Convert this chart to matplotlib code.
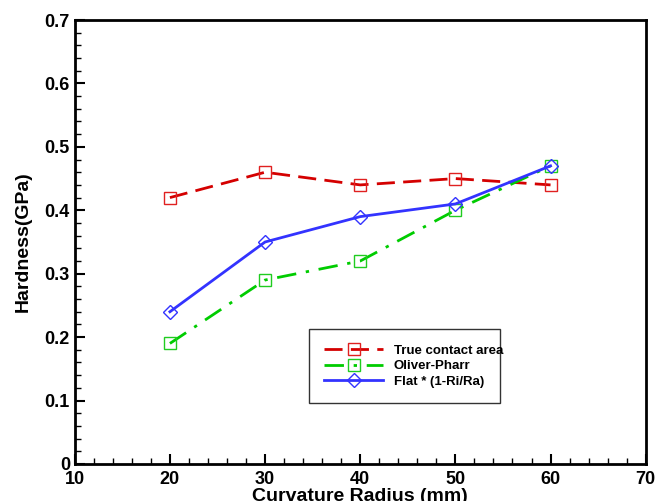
import matplotlib.pyplot as plt
from matplotlib.ticker import MultipleLocator

radius = [20, 30, 40, 50, 60]
true_area = [0.42, 0.46, 0.44, 0.45, 0.44]
oliver_pharr = [0.19, 0.29, 0.32, 0.40, 0.47]
flat_corr = [0.24, 0.35, 0.39, 0.41, 0.47]

plt.rcParams['font.family'] = ['Liberation Sans', 'DejaVu Sans']
plt.rcParams['font.weight'] = 'bold'

fig = plt.figure(figsize=(6.57, 5.01), dpi=100)
ax = fig.add_axes([0.1138, 0.074, 0.869, 0.886])

ax.plot(radius, true_area, color='#d40000', lw=2, dashes=(6.5, 3),
        marker='s', ms=8, mfc='none', mec='#e02020', mew=1,
        label='True contact area')
ax.plot(radius, oliver_pharr, color='#00cc00', lw=2, dashes=(7, 3.5, 1.2, 3.5),
        marker='s', ms=8, mfc='none', mec='#20cc20', mew=1,
        label='Oliver-Pharr')
ax.plot(radius, flat_corr, color='#3333ff', lw=2, ls='-',
        marker='D', ms=7.5, mfc='none', mec='#3333ff', mew=1,
        label='Flat * (1-Ri/Ra)')

ax.set_xlim(10, 70)
ax.set_ylim(0, 0.7)
ax.xaxis.set_major_locator(MultipleLocator(10))
ax.xaxis.set_minor_locator(MultipleLocator(2))
ax.yaxis.set_major_locator(MultipleLocator(0.1))
ax.yaxis.set_minor_locator(MultipleLocator(0.02))
ax.tick_params(which='both', direction='in', top=False, right=False,
               labelsize=13, width=1.5)
ax.tick_params(which='major', length=7)
ax.tick_params(which='minor', length=4, width=1)
ax.tick_params(axis='x', pad=5)
ax.set_yticks([0, 0.1, 0.2, 0.3, 0.4, 0.5, 0.6, 0.7])
ax.set_yticklabels(['0', '0.1', '0.2', '0.3', '0.4', '0.5', '0.6', '0.7'])
for lab in ax.get_xticklabels() + ax.get_yticklabels():
    lab.set_fontweight('bold')
for s in ax.spines.values():
    s.set_linewidth(2)

ax.set_xlabel('Curvature Radius (mm)', fontsize=14, fontweight='bold', labelpad=0)
ax.set_ylabel('Hardness(GPa)', fontsize=14, fontweight='bold', labelpad=9)

leg = ax.legend(loc='lower left', bbox_to_anchor=(0.410, 0.137, 0.334, 0.16),
                mode='expand', borderaxespad=0, frameon=True, fancybox=False,
                edgecolor='black', handlelength=4.5, borderpad=1.15,
                labelspacing=0.25, handletextpad=0.8,
                prop={'weight': 'bold', 'size': 9.5})
leg.get_frame().set_linewidth(1)

fig.savefig('out.png', dpi=100)
